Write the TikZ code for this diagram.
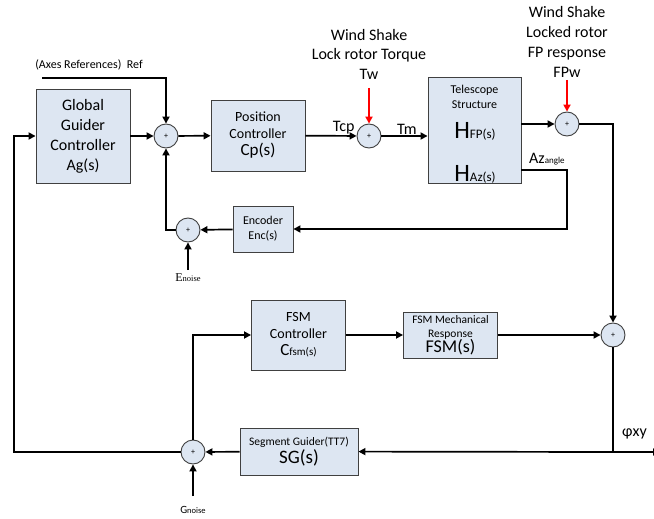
\documentclass[tikz,border=0pt]{standalone}
\usepackage{fontspec}
\setmainfont{Carlito}
\newfontfamily\noisefont{Liberation Serif}
\usepackage{xcolor}
\definecolor{blockfill}{RGB}{221, 230, 242}
\definecolor{blockedge}{RGB}{64, 64, 64}
\usepackage{tikz}
\usetikzlibrary{
  arrows.meta,
  positioning
}
\newcommand{\fsz}[2]{\fontsize{#1}{#2}\selectfont}

\begin{document}
\begin{tikzpicture}[x=1pt, y=-1pt,
  blockbox/.style={draw=blockedge, fill=blockfill, line width=0.9pt, align=center, inner sep=0pt},
  sumnode/.style={circle, draw=blockedge, fill=blockfill, line width=0.9pt,
                  minimum size=24pt, inner sep=0pt, font=\fsz{8}{9}},
  conn/.style={line width=1.7pt, -{Triangle[length=7pt, width=7pt]}},
  wire/.style={line width=1.7pt},
  windarrow/.style={red, line width=1.8pt, -{Triangle[length=7pt, width=7pt]}},
  sig/.style={font=\fsz{16}{19}, inner sep=1pt}
]
\useasboundingbox (0,0) rectangle (654,519);

% blocks
\node[blockbox, minimum width=94pt, minimum height=94pt, font=\fsz{16}{20}] (ag) at (83,136)
  {Global\\Guider\\Controller\\Ag(s)};
\node[blockbox, minimum width=94pt, minimum height=71pt, font=\fsz{14}{17}] (cp) at (258,135.5)
  {Position\\Controller\\{\fsz{17}{19}Cp(s)}};
\node[blockbox, minimum width=93pt, minimum height=106pt] (tel) at (474.5,130) {};
\node[font=\fsz{12}{15}, align=center, inner sep=0pt] (teltxt) at (474.5,97) {Telescope\\Structure};
\node[inner sep=0pt] (telhfp) at (475,131) {{\fsz{25}{27}H}{\fsz{13}{14}FP(s)}};
\node[inner sep=0pt] (telhaz) at (475,174) {{\fsz{25}{27}H}{\fsz{13}{14}Az(s)}};
\node[blockbox, minimum width=60pt, minimum height=46pt, font=\fsz{12}{15}] (enc) at (263,229)
  {Encoder\\Enc(s)};
\node[blockbox, minimum width=94pt, minimum height=70pt, font=\fsz{14}{17}] (fsmc) at (298.5,335)
  {FSM\\Controller\\{\fsz{17}{19}C}{\fsz{11}{12}fsm(s)}};
\node[blockbox, minimum width=94pt, minimum height=46pt, font=\fsz{11.5}{14}] (fsmm) at (450.5,335)
  {FSM Mechanical\\Response\\[-1pt]{\fsz{18}{19}FSM(s)}};
\node[blockbox, minimum width=118pt, minimum height=47pt, font=\fsz{11.5}{14}] (sg) at (299,451.5)
  {Segment Guider(TT7)\\[1pt]{\fsz{19}{21}SG(s)}};

% summing junctions
\node[sumnode] (sumref) at (166,136) {+};
\node[sumnode] (sumtw) at (369,136) {+};
\node[sumnode] (sumfp) at (567,124) {+};
\node[sumnode] (sumenc) at (188,230) {+};
\node[sumnode] (sumfsm) at (613,335) {+};
\node[sumnode] (sumg) at (193,452) {+};

% free ends
\coordinate (refin) at (42,78);
\coordinate (twtop) at (369,88);
\coordinate (fpwtop) at (567,80);
\coordinate (azout) at (521,170);
\coordinate (azcorner) at (567,229);
\coordinate (enoise) at (188,270);
\coordinate (gnoise) at (193,496);
\coordinate (phicorner) at (613,452);
\coordinate (phiend) at (660,452);
\coordinate (fbleft) at (14,452);

% disturbance and reference texts
\node[font=\fsz{12}{14}, inner sep=0pt] (reftxt) at (89,65) {(Axes References)\ \ Ref};
\node[font=\fsz{16}{19.5}, align=center, inner sep=0pt] (twtxt) at (369,54)
  {Wind Shake\\Lock rotor Torque\\Tw};
\node[font=\fsz{16}{20}, align=center, inner sep=0pt] (fpwtxt) at (567,42)
  {Wind Shake\\Locked rotor\\FP response\\FPw};
\node[inner sep=0pt, font=\noisefont] (enoisetxt) at (188,278) {{\fsz{12}{13}E}{\fsz{8.5}{9}noise}};
\node[inner sep=0pt] (gnoisetxt) at (193,510) {{\fsz{11}{12}G}{\fsz{8.5}{9}noise}};

% forward path
\draw[conn] (refin) -| (sumref);
\draw[conn] (ag) -- (sumref);
\draw[conn] (sumref) -- (cp);
\draw[conn] (cp) -- node[sig, above, pos=0.75] {Tcp} (sumtw);
\draw[conn] (sumtw) -- node[sig, above, pos=0.55] {Tm} (tel.west |- sumtw);
\draw[windarrow] (twtop) -- (sumtw);
\draw[conn] (tel.east |- sumfp) -- (sumfp);
\draw[windarrow] (fpwtop) -- (sumfp);
\draw[conn] (sumfp) -| (sumfsm);

% encoder loop
\draw[conn] (azout) -| (azcorner) -- (enc);
\node[inner sep=0pt, anchor=base west] (aztxt) at (529,164) {{\fsz{16}{18}Az}{\fsz{9}{10}angle}};
\draw[conn] (enc) -- (sumenc);
\draw[conn] (enoise) -- (sumenc);
\draw[conn] (sumenc) -| (sumref);

% FSM loop
\draw[conn] (fsmc) -- (fsmm);
\draw[conn] (fsmm) -- (sumfsm);
\draw[wire] (sumfsm) -- (phicorner);
\draw[conn] (phicorner) -- (phiend);
\node[sig, anchor=base west] (phitxt) at (621,436) {φxy};
\draw[conn] (phicorner) -- (sg);
\draw[conn] (sg) -- (sumg);
\draw[conn] (gnoise) -- (sumg);
\draw[conn] (sumg) |- (fsmc);
\draw[conn] (sumg) -- (fbleft) |- (ag);
\end{tikzpicture}
\end{document}
